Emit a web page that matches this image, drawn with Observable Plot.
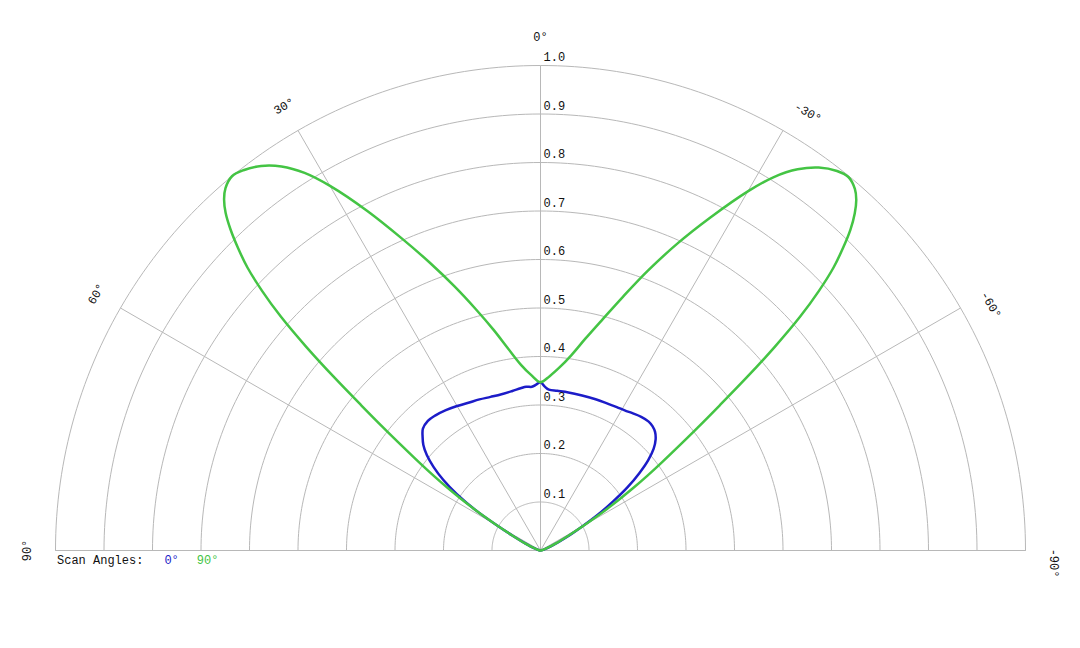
<!DOCTYPE html>
<html>
<head>
<meta charset="utf-8">
<script src="https://cdn.jsdelivr.net/npm/d3@7"></script>
<script src="https://cdn.jsdelivr.net/npm/@observablehq/plot@0.6"></script>
<style>
  html, body { margin: 0; padding: 0; background: #fff; }
  #wrap { position: relative; width: 1080px; height: 648px; }
  #legend { position: absolute; left: 57px; top: 553px; font: 12px "Liberation Mono", "DejaVu Sans Mono", monospace; line-height: 16px; color: #111; white-space: pre; }
  #legend span { display: inline-block; }
</style>
</head>
<body>
<div id="wrap"><div id="legend"></div></div>
<script>
// Polar angle (degrees, positive to the left) and normalized gain
const blueAngles = [-90, -75, -68, -63, -60, -58, -56, -54, -52, -50, -48, -46, -44, -42, -40, -37, -34, -31, -28, -25, -20, -15, -10, -6, -3, -1.5, 0, 1.5, 3, 5, 7, 10, 14, 18, 22, 26, 30, 34, 38, 41, 44, 46, 48, 50, 52, 54, 56, 58, 60, 62, 65, 70, 78, 90];
const blueValues = [0, 0.007, 0.025, 0.06, 0.1, 0.14, 0.18, 0.222, 0.258, 0.29, 0.314, 0.33, 0.34, 0.345, 0.347, 0.345, 0.341, 0.337, 0.335, 0.333, 0.332, 0.331, 0.331, 0.331, 0.332, 0.338, 0.347, 0.342, 0.338, 0.339, 0.337, 0.334, 0.332, 0.333, 0.336, 0.339, 0.344, 0.349, 0.353, 0.354, 0.349, 0.338, 0.325, 0.306, 0.28, 0.248, 0.208, 0.16, 0.105, 0.066, 0.035, 0.014, 0.003, 0];

const greenAngles = [-90, -78, -70, -65, -62, -60, -59, -58, -57, -56, -55, -54, -53, -52, -51, -50, -49, -48, -47, -46, -45, -44, -43, -42, -41, -39.5, -38, -36, -34, -32, -30, -27, -24, -21, -18, -15, -12, -9, -6, -3, 0, 3, 6, 9, 12, 15, 18, 21, 24, 27, 30, 32, 34, 36, 38, 39.5, 41, 42, 43, 44, 45, 46, 47, 48, 49, 50, 51, 52, 53, 54, 55, 56, 57, 58, 59, 60, 62, 65, 70, 78, 90];
const greenValues = [0, 0.003, 0.014, 0.035, 0.065, 0.104, 0.13, 0.16, 0.195, 0.232, 0.27, 0.31, 0.355, 0.41, 0.475, 0.555, 0.64, 0.72, 0.785, 0.84, 0.882, 0.92, 0.95, 0.973, 0.988, 0.998, 0.993, 0.976, 0.948, 0.908, 0.855, 0.77, 0.692, 0.618, 0.55, 0.493, 0.447, 0.408, 0.38, 0.36, 0.347, 0.362, 0.385, 0.42, 0.465, 0.515, 0.572, 0.635, 0.705, 0.785, 0.868, 0.918, 0.955, 0.98, 0.995, 1.0, 0.99, 0.975, 0.952, 0.92, 0.882, 0.84, 0.785, 0.72, 0.64, 0.555, 0.475, 0.41, 0.355, 0.31, 0.27, 0.232, 0.195, 0.16, 0.13, 0.104, 0.065, 0.035, 0.014, 0.003, 0];

const ringValues = [0.1, 0.2, 0.3, 0.4, 0.5, 0.6, 0.7, 0.8, 0.9, 1.0];
const ringLabels = ["0.1", "0.2", "0.3", "0.4", "0.5", "0.6", "0.7", "0.8", "0.9", "1.0"];
const spokeAngles = [-90, -60, -30, 0, 30, 60, 90];
const spokeLabels = ["-90°", "-60°", "-30°", "0°", "30°", "60°", "90°"];

const seriesNames = ["0°", "90°"];
const seriesColors = ["#1c1cc8", "#44c444"];

const rad = Math.PI / 180;
const px = (a, r) => r * Math.sin(a * rad);
const py = (a, r) => r * Math.cos(a * rad);

const blue = blueAngles.map((a, i) => ({a, r: blueValues[i]}));
const green = greenAngles.map((a, i) => ({a, r: greenValues[i]}));

const ringPts = [];
for (const r of ringValues) for (let a = -90; a <= 90; a += 1) ringPts.push({r, a});
const spokes = spokeAngles.map((a, i) => ({a, label: spokeLabels[i]}));
const rings = ringValues.map((r, i) => ({r, label: ringLabels[i]}));

const font = "'Liberation Mono', 'DejaVu Sans Mono', monospace";
const gridColor = "#b8b8b8";
const labelR = 1.058;
// labels with a leading minus sit slightly further clockwise
const labelAngle = d => d.a < 0 ? d.a - 1.4 : d.a;

const chart = Plot.plot({
  width: 1080,
  height: 648,
  style: {fontFamily: font, fontSize: "12px", background: "transparent", overflow: "visible"},
  x: {domain: [-1, 1], range: [1025, 55], axis: null},
  y: {domain: [0, 1], range: [550, 65], axis: null},
  marks: [
    Plot.line(ringPts, {x: d => px(d.a, d.r), y: d => py(d.a, d.r), z: "r", stroke: gridColor, strokeWidth: 1}),
    Plot.link(spokes, {x1: 0, y1: 0, x2: d => px(d.a, 1), y2: d => py(d.a, 1), stroke: gridColor, strokeWidth: 1}),
    Plot.line(blue, {x: d => px(d.a, d.r), y: d => py(d.a, d.r), stroke: seriesColors[0], strokeWidth: 2.5, curve: "catmull-rom"}),
    Plot.line(green, {x: d => px(d.a, d.r), y: d => py(d.a, d.r), stroke: seriesColors[1], strokeWidth: 2.5, curve: "catmull-rom"}),
    Plot.text(rings, {x: 0, y: "r", text: "label", textAnchor: "start", dx: 3, dy: -8, fill: "#111", fontSize: 12}),
    Plot.text(spokes, {x: d => px(labelAngle(d), labelR), y: d => py(labelAngle(d), labelR), text: "label", rotate: d => -d.a, textAnchor: "middle", fill: "#111", fontSize: 12})
  ]
});
document.getElementById("wrap").prepend(chart);

const legend = document.getElementById("legend");
legend.innerHTML = `Scan Angles:<span style="color:${seriesColors[0]};margin-left:21px">${seriesNames[0]}</span><span style="color:${seriesColors[1]};margin-left:18px">${seriesNames[1]}</span>`;
</script>
</body>
</html>
